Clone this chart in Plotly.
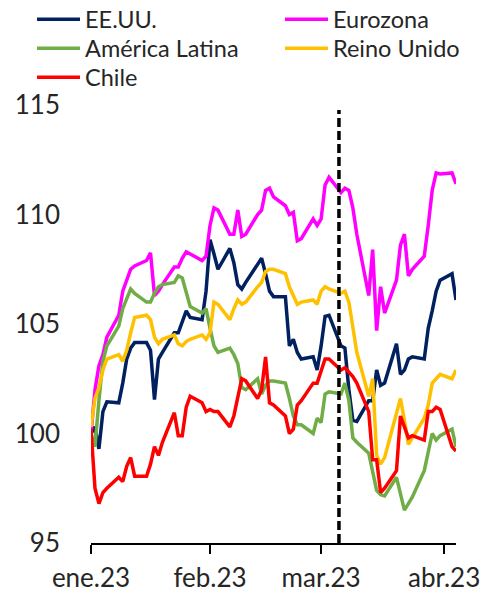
import pandas as pd
import plotly.graph_objects as go

dates = pd.bdate_range("2023-01-02", "2023-04-04")

eeuu = [100.0, 100.3, 99.3, 101.0, 101.45, 101.4, 102.3, 103.4, 103.9, 104.15,
        104.15, 103.8, 101.55, 103.4, 103.7, 104.6, 104.6, 105.1, 105.6, 105.3,
        105.2, 106.5,
        108.85, 108.2, 107.5, 108.45, 107.8, 106.8, 106.6, 106.9, 107.7, 108.0,
        107.3, 106.5, 106.25, 106.25, 104.0, 104.3, 103.7, 103.4, 103.5, 102.9,
        104.0, 105.35, 105.4, 104.0, 103.9, 102.0, 100.6, 100.55, 101.5, 101.5,
        102.9, 102.2, 102.3, 104.1, 102.7, 102.9, 103.4, 103.5, 103.4, 104.8,
        105.6, 106.5, 107.0,
        107.3, 106.1]

eurozona = [100.0, 102.0, 103.1, 103.6, 104.4, 105.4, 106.5, 107.0, 107.5, 107.65,
            107.9, 108.25, 106.3, 106.5, 106.8, 107.6, 107.6, 108.0, 108.3, 108.2,
            107.9, 108.1,
            109.5, 110.3, 110.2, 109.1, 109.1, 110.2, 109.0, 109.1, 110.0, 110.2,
            111.1, 111.2, 110.8, 110.4, 110.0, 110.1, 108.8, 108.9, 109.8, 109.5,
            109.8, 111.35, 111.7, 111.0, 111.2, 111.1, 110.3, 109.1, 106.3, 108.4,
            104.7, 106.7, 105.5, 107.0, 108.6, 109.1, 107.2, 107.5, 108.1, 109.5,
            111.1, 111.9, 111.85,
            111.9, 111.4]

america_latina = [100.0, 99.4, 101.5, 103.3, 104.0, 104.9, 105.7, 106.2, 106.6, 106.4,
                  106.0, 106.0, 106.4, 106.7, 106.8, 106.9, 107.2, 107.1, 106.4, 105.8,
                  105.5, 105.7,
                  104.8, 104.0, 103.7, 103.9, 103.6, 103.2, 102.1, 102.0, 102.5, 101.8,
                  102.2, 102.4, 102.4, 102.3, 101.6, 100.8, 100.4, 100.4, 100.0, 100.7,
                  100.5, 101.8, 101.9, 101.8, 102.3, 101.5, 99.8, 99.6, 99.1, 98.2,
                  97.4, 97.2, 97.15, 98.0, 97.3, 96.5, 96.8, 97.1, 98.3, 99.2,
                  100.0, 99.7, 99.9,
                  100.2, 99.4]

reino_unido = [100.3, 101.6, 102.1, 102.9, 103.4, 103.6, 103.3, 103.8, 104.6, 105.3,
               105.4, 105.2, 104.4, 104.1, 104.3, 104.5, 104.1, 104.0, 104.2, 104.3,
               104.5, 104.3,
               104.6, 106.0, 105.9, 105.2, 105.7, 106.1, 105.9, 106.0, 106.7, 106.9,
               107.4, 107.5, 107.5, 107.3, 106.7, 106.3, 105.9, 106.0, 106.1, 105.9,
               106.5, 106.7, 106.6, 106.4, 106.5, 106.0, 104.9, 103.7, 101.7, 102.5,
               99.0, 98.6, 98.9, 101.0, 101.6, 100.6, 99.5, 99.8, 100.7, 101.3,
               102.3, 102.5, 102.7,
               102.5, 102.9]

chile = [100.2, 97.5, 96.8, 97.3, 97.5, 98.0, 97.8, 98.5, 98.9, 98.05,
         98.05, 98.6, 99.4, 99.0, 99.6, 100.95, 99.9, 99.9, 101.2, 101.7,
         101.4, 101.0,
         101.1, 101.0, 101.0, 100.3, 100.8, 101.7, 102.5, 102.4, 101.6, 102.0,
         103.5, 101.4, 101.3, 100.8, 100.0, 100.2, 101.3, 101.5, 102.3, 102.3,
         102.8, 103.4, 103.4, 102.9, 103.0, 102.8, 102.6, 102.3, 101.0, 98.8,
         98.8, 97.3, 97.5, 98.3, 100.8, 100.3, 99.8, 99.9, 99.7, 101.0,
         101.0, 101.2, 101.1,
         99.4, 99.2]

series_names = ["EE.UU.", "Eurozona", "América Latina", "Reino Unido", "Chile"]
series_values = [eeuu, eurozona, america_latina, reino_unido, chile]
series_colors = ["#002060", "#FF00FF", "#70AD47", "#FFC000", "#FF0000"]

event_date = "2023-03-05 12:00"
x_tickvals = ["2023-01-02", "2023-02-01", "2023-03-01", "2023-04-01"]
x_ticktext = ["ene.23", "feb.23", "mar.23", "abr.23"]
y_tickvals = [95, 100, 105, 110, 115]

# legend grid slots (column x in paper units, row y in paper units)
legend_ids = ["legend", "legend2", "legend3", "legend4", "legend5"]
legend_x = [-0.1616, 0.5178, -0.1616, 0.5178, -0.1616]
legend_y = [1.1952, 1.1952, 1.1290, 1.1290, 1.0628]

fig = go.Figure()
for name, vals, color, lg in zip(series_names, series_values, series_colors, legend_ids):
    assert len(vals) == len(dates), (name, len(vals))
    fig.add_trace(go.Scatter(x=dates, y=vals, mode="lines", name=name, legend=lg,
                             line=dict(color=color, width=3.5)))

fig.add_shape(type="line", xref="x", yref="y", x0=event_date, x1=event_date,
              y0=95, y1=114.77,
              line=dict(color="black", width=3.5, dash="9px,4px"))

legend_layout = {}
for lg, lx, ly in zip(legend_ids, legend_x, legend_y):
    legend_layout[lg] = dict(orientation="v", xanchor="left", yanchor="middle",
                             x=lx, y=ly, font=dict(size=23.5, color="#262626"),
                             bgcolor="rgba(0,0,0,0)", itemwidth=43, borderwidth=0)

fig.update_layout(
    width=486, height=593,
    margin=dict(l=91, r=30, t=105, b=50, autoexpand=False),
    plot_bgcolor="white", paper_bgcolor="white",
    font=dict(family="Lato", size=26, color="#262626"),
    showlegend=True,
    **legend_layout,
)
fig.update_xaxes(range=["2023-01-02", "2023-04-04"], tickvals=x_tickvals,
                 ticktext=x_ticktext, showline=True, linecolor="black", linewidth=2,
                 ticks="outside", ticklen=9, tickwidth=2, tickcolor="black",
                 tickfont=dict(size=26),
                 showgrid=False, zeroline=False, ticklabelstandoff=2, automargin=False)
fig.update_yaxes(range=[95, 115], tickvals=y_tickvals, showgrid=False,
                 zeroline=False, showline=False, ticks="", ticklabelstandoff=30,
                 automargin=False)

fig.write_html("out.html")
